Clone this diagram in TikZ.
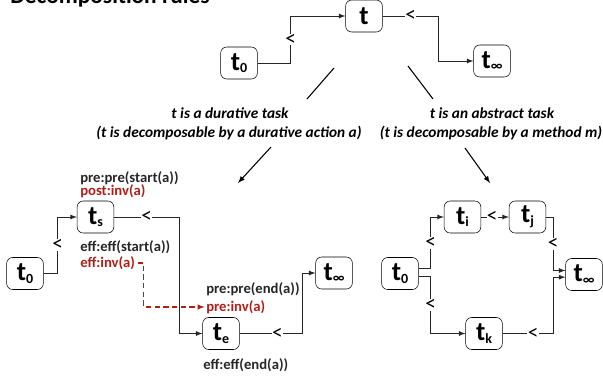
\documentclass[tikz,border=0pt]{standalone}
\usepackage{fontspec}
\setmainfont{Carlito}
\usetikzlibrary{positioning,arrows}

\definecolor{darkred}{RGB}{172,32,24}
\newcommand{\tsub}[1]{\raisebox{-2pt}{\fontsize{10.5}{10.5}\selectfont #1}}

\tikzset{
  task/.style={draw,rounded corners=4.5pt,minimum width=27.5pt,minimum height=24pt,inner sep=0pt,
    font=\bfseries\fontsize{20}{20}\selectfont},
  lt/.style={fill=white,inner sep=0.3pt,font=\fontsize{16}{16}\selectfont},
  cond/.style={anchor=west,inner sep=0pt,font=\bfseries\fontsize{11}{12}\selectfont,text=black!85},
  flow/.style={->,>=latex,line width=0.7pt,draw=black!85},
  why/.style={inner sep=0pt,font=\bfseries\itshape\fontsize{11.5}{12}\selectfont}
}

\begin{document}
\begin{tikzpicture}[x=0.75pt,y=-0.75pt]
\useasboundingbox (0,0) rectangle (603,380);
\clip (0,0) rectangle (603,380);

\node[anchor=base west,inner sep=0pt,font=\bfseries\fontsize{17.5}{17.5}\selectfont] (title) at (10,3.5) {Decomposition rules};

% the task t
\node[task](t) at (364,16) {t};
\node[task](t0a) at (239,63) {t\tsub{0}};
\node[task](tinfa) at (492,61) {t\tsub{∞}};
\draw[flow](t0a.east)--++(33,0) |- node[lt,pos=0.25]{<} (t.west);
\draw[flow](t.east)-- node[lt]{<} ++(56,0) |- (tinfa.west);

\draw[line width=0.8pt](334,68)--(307,99);
\draw[line width=0.8pt](408,66)--(433,99);

\node[why](d1) at (230,113) {t is a durative task};
\node[why](d2) at (229,133) {(t is decomposable by a durative action a)};
\node[why](m1) at (492,113) {t is an abstract task};
\node[why](m2) at (491,133) {(t is decomposable by a method m)};
\draw[->,>=latex,line width=0.8pt](271,147)--(238,183);
\draw[->,>=latex,line width=0.8pt](465,148)--(490,183);

% durative action
\node[task](ts) at (95.5,217) {t\tsub{s}};
\node[task](t0b) at (25,273.5) {t\tsub{0}};
\node[task](te) at (221,333.5) {t\tsub{e}};
\node[task](tinfb) at (334,273) {t\tsub{∞}};
\node[cond](prestart) at (80,178) {pre:pre(start(a))};
\node[cond,text=darkred](postinv) at (80,191) {post:inv(a)};
\node[cond](effstart) at (80,247) {eff:eff(start(a))};
\node[cond,text=darkred](effinv) at (80,263) {eff:inv(a)};
\node[cond](preend) at (206,289) {pre:pre(end(a))};
\node[cond,text=darkred](preinv) at (206,307) {pre:inv(a)};
\node[cond](effend) at (203,365) {eff:eff(end(a))};

\draw[flow](t0b.east)--++(14,0) |- node[lt,pos=0.25]{<} (ts.west);
\draw[flow](ts.east)-- node[lt]{<} ++(65,0) |- (te.west);
\draw[flow](te.east)-- node[lt,pos=0.6]{<} ++(63,0) |- (tinfb.west);
\draw[->,>=latex,line width=0.8pt,color=darkred,dash pattern=on 4pt off 2.5pt]
  ([xshift=2pt]effinv.east)--++(6,0) |- ([xshift=-1pt]preinv.west);

% method
\node[task](t0c) at (400,273.5) {t\tsub{0}};
\node[task](ti) at (462.5,217) {t\tsub{i}};
\node[task](tj) at (527.5,217) {t\tsub{j}};
\node[task](tk) at (484,333.5) {t\tsub{k}};
\node[task](tinfc) at (584,274.5) {t\tsub{∞}};

\draw[flow]([yshift=3.5pt]t0c.east)--++(12,0) |- node[lt,pos=0.25]{<} (ti.west);
\draw[flow]([yshift=-2pt]t0c.east)--++(12,0) |- node[lt,pos=0.25]{<} (tk.west);
\draw[flow](ti)-- node[lt,pos=0.4]{<} (tj);
\draw[flow](tj.east)--++(7,0) |- node[lt,pos=0.25]{<} ([yshift=3pt]tinfc.west);
\draw[flow](tk.east)-- node[lt,pos=0.6]{<} ++(51,0) |- ([yshift=-2pt]tinfc.west);
\end{tikzpicture}
\end{document}
